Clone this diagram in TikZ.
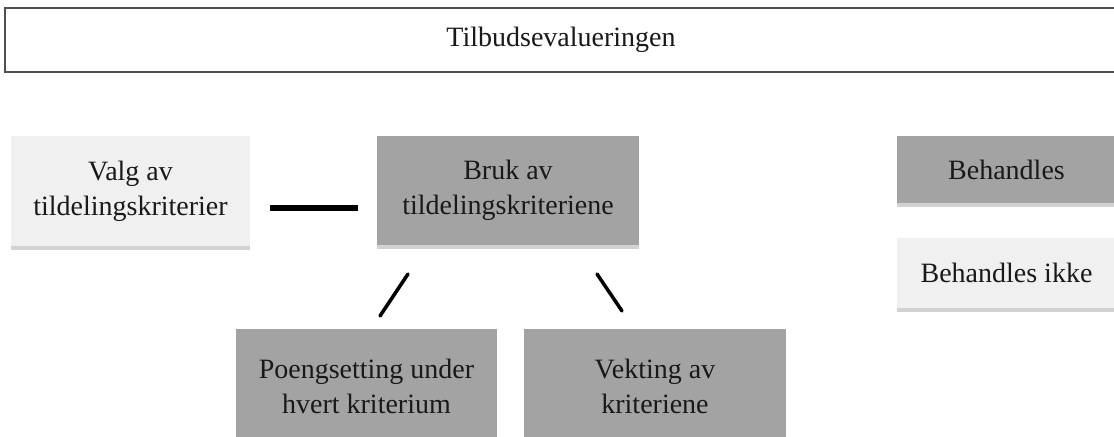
\documentclass[tikz,border=0pt]{standalone}
\usepackage{fontspec}
\setmainfont{Liberation Serif}
\definecolor{boxdark}{RGB}{163,163,163}
\definecolor{boxlight}{RGB}{240,240,240}
\definecolor{boxshade}{RGB}{210,210,210}
\definecolor{frameline}{RGB}{80,80,80}
\definecolor{inktext}{RGB}{25,25,25}
\tikzset{
  label text/.style={font=\fontsize{28bp}{35bp}\selectfont, text=inktext, align=center, inner sep=0pt},
  darkbox/.style={label text, fill=boxdark},
  lightbox/.style={label text, fill=boxlight},
  titlebox/.style={label text, draw=frameline, line width=2bp, fill=white},
  linkline/.style={line width=5.5bp},
  branchline/.style={line width=3.5bp, line cap=round}
}
\newcommand{\boxshadow}[1]{\fill[boxshade] (#1.south west) rectangle ([yshift=-3.5bp]#1.south east);}
\begin{document}
\begin{tikzpicture}[x=1bp,y=-1bp]
\useasboundingbox (0,0) rectangle (1114,437);
\clip (0,0) rectangle (1114,437);
\fill[white] (0,0) rectangle (1114,437);

% heading frame
\node[titlebox, minimum width=1112bp, minimum height=64.5bp] (title) at (561,40.25) {Tilbudsevalueringen};

% first row
\node[lightbox, minimum width=239bp, minimum height=110bp] (valg) at (130.5,191) {Valg av\\tildelingskriterier};
\boxshadow{valg}
\node[darkbox, minimum width=262bp, minimum height=109bp] (bruk) at (508,190.5) {Bruk av\\tildelingskriteriene};
\boxshadow{bruk}

% legend
\node[darkbox, minimum width=219bp, minimum height=67bp] (beh) at (1006.5,169.5) {Behandles};
\boxshadow{beh}
\node[lightbox, minimum width=219bp, minimum height=70bp] (behikke) at (1006.5,273) {Behandles ikke};
\boxshadow{behikke}

% second row
\node[darkbox, minimum width=261bp, minimum height=114bp] (poeng) at (366.5,386) {Poengsetting under\\hvert kriterium};
\node[darkbox, minimum width=262bp, minimum height=114bp] (vekt) at (655,386) {Vekting av\\kriteriene};

% connectors
\coordinate (h1) at (270,208);
\coordinate (h2) at (358,208);
\coordinate (p1) at (408,274);
\coordinate (p2) at (380,316);
\coordinate (v1) at (597,274);
\coordinate (v2) at (622,311);
\draw[linkline] (h1) -- (h2);
\draw[branchline] (p1) -- (p2);
\draw[branchline] (v1) -- (v2);
\end{tikzpicture}
\end{document}
